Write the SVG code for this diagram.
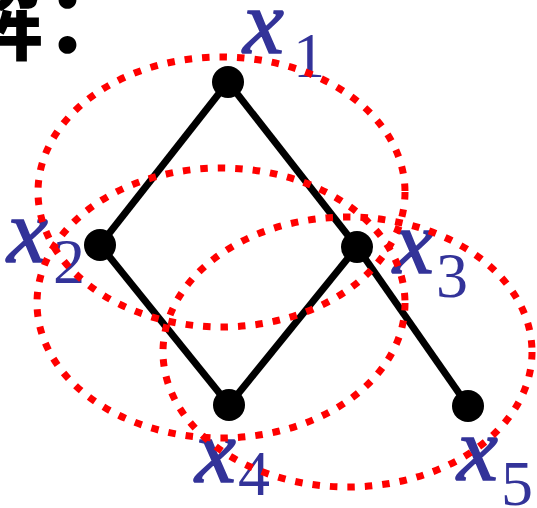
<svg xmlns="http://www.w3.org/2000/svg" width="537" height="508" viewBox="0 0 537 508">
<style>
.edge{stroke:#000;stroke-width:7;fill:none}
.node{fill:#000}
.set{fill:none;stroke:#ff0000;stroke-width:7;stroke-dasharray:7.5 10}
.lx{font-family:"Liberation Serif",serif;font-style:italic;font-size:92px;fill:#333399;stroke:#333399;stroke-width:1.5}
.ls{font-family:"Liberation Serif",serif;font-size:64px;fill:#333399}
.title{font-family:"Noto Sans CJK SC",sans-serif;font-weight:bold;font-size:94px;fill:#000}
</style>
<rect width="537" height="508" fill="#fff"/>
<text class="title" x="-50" y="53">解：</text>
<g id="connectors">
<line class="edge" x1="228" y1="82" x2="100" y2="245"/>
<line class="edge" x1="228" y1="82" x2="357" y2="247"/>
<line class="edge" x1="100" y1="245" x2="229" y2="405"/>
<line class="edge" x1="357" y1="247" x2="229" y2="405"/>
<line class="edge" x1="357" y1="247" x2="468" y2="406"/>
</g>
<g id="x1"><circle class="node" cx="228" cy="82" r="16"/><text class="lx" x="243" y="53">x</text><text class="ls" x="293" y="77">1</text></g>
<g id="x2"><circle class="node" cx="100" cy="245" r="16"/><text class="lx" x="7" y="262">x</text><text class="ls" x="53" y="283">2</text></g>
<g id="x3"><circle class="node" cx="357" cy="247" r="16"/><text class="lx" x="393" y="273">x</text><text class="ls" x="436" y="297">3</text></g>
<g id="x4"><circle class="node" cx="229" cy="405" r="16"/><text class="lx" x="195" y="482">x</text><text class="ls" x="238" y="495">4</text></g>
<g id="x5"><circle class="node" cx="468" cy="406" r="16"/><text class="lx" x="457" y="480">x</text><text class="ls" x="501" y="505">5</text></g>
<g id="sets">
<ellipse class="set" cx="221.5" cy="192" rx="183.5" ry="135"/>
<ellipse class="set" cx="221" cy="303" rx="184" ry="135"/>
<ellipse class="set" cx="347.5" cy="352" rx="184.5" ry="135"/>
</g>
</svg>
